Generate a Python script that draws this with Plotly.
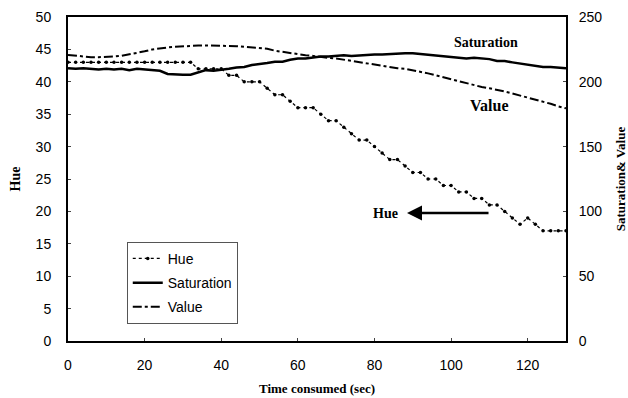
import plotly.graph_objects as go

time_s = list(range(0, 131, 2))

hue = [43, 43, 43, 43, 43, 43, 43, 43, 43, 43, 43, 43, 43, 43, 43, 43, 43,
       42, 42, 42, 42,
       41, 41,
       40, 40, 40,
       39, 38, 38, 37, 36, 36, 36, 35, 34, 34, 33, 32, 31, 31, 30, 29, 28, 28,
       27, 26, 26, 25, 25, 24, 24, 23, 23, 22, 22, 21, 21, 20, 19, 18, 19, 18,
       17, 17, 17, 17]

saturation = [210.5, 210, 210.5, 210, 209.5, 210, 209.5, 210, 209, 210, 209.5, 209, 208.5,
              206, 205.5, 205.5, 205.5, 207, 209, 208.5, 209, 210, 211, 211.5, 213, 213.5,
              214.5, 215.5, 215.5, 217, 218, 218, 219, 219.5, 219.5, 220, 220.5, 220,
              220.5, 221, 221, 221, 221.5, 221.5, 222, 222, 221.5, 221, 220, 220, 219.5,
              219, 218, 218.5, 218, 217.5, 216, 216, 215, 214, 213, 212.5, 211.5, 211.5,
              211, 210.5]

value = [220.7, 220, 219.5, 219, 219, 219, 219.5, 220, 221, 222, 223.5, 225, 226,
         226.5, 227, 227.5, 228, 228, 228, 228, 228, 228, 227.5, 227, 226.5, 226,
         225.5, 224, 223, 222, 221, 220.5, 220, 219, 218.5, 218, 217, 216.5, 215.5,
         214.5, 213.5, 212.5, 211.5, 210.5, 210, 209, 208, 206.5, 205, 203.5, 202,
         200, 198.5, 197, 196, 195, 194, 192.5, 191, 189.5, 188, 186, 184.5, 183,
         181, 179.5]

x_ticks = [0, 20, 40, 60, 80, 100, 120]

fig = go.Figure()
fig.add_trace(go.Scatter(
    x=time_s, y=hue, name="Hue", mode="lines+markers",
    line=dict(color="black", width=1.2, dash="dot"),
    marker=dict(color="black", size=3.5),
    legendgroup="h", yaxis="y"))
fig.add_trace(go.Scatter(
    x=time_s, y=saturation, name="Saturation", mode="lines",
    line=dict(color="black", width=2.5),
    legendgroup="s", yaxis="y2"))
fig.add_trace(go.Scatter(
    x=time_s, y=value, name="Value", mode="lines",
    line=dict(color="black", width=2, dash="dashdot"),
    legendgroup="v", yaxis="y2"))

sans = "Liberation Sans, Arial, sans-serif"
serif = "Liberation Serif, Times New Roman, serif"

fig.update_layout(
    width=628, height=398,
    margin=dict(l=68, r=62, t=17, b=57),
    paper_bgcolor="white", plot_bgcolor="white",
    font=dict(family=sans, size=14, color="black"),
    showlegend=True,
    legend=dict(x=0.118, y=0.306, xanchor="left", yanchor="top",
                bgcolor="white", bordercolor="#555", borderwidth=1,
                font=dict(family=sans, size=14, color="black"),
                tracegroupgap=3, traceorder="grouped"),
    xaxis=dict(range=[0, 130], tickvals=x_ticks, showline=True, linecolor="black",
               linewidth=2, mirror=True, ticks="inside", ticklen=3, showgrid=False,
               zeroline=False, tickfont=dict(size=14), ticklabelstandoff=10,
               automargin=False,
               title=dict(text="<b>Time consumed (sec)</b>",
                          font=dict(family=serif, size=13), standoff=12)),
    yaxis=dict(range=[0, 50], dtick=5, showline=True, linecolor="black", linewidth=2,
               ticks="inside", ticklen=3, showgrid=False, zeroline=False,
               tickfont=dict(size=14), ticklabelstandoff=12, automargin=False,
               title=dict(text="<b>Hue</b>", font=dict(family=serif, size=14), standoff=12)),
    yaxis2=dict(range=[0, 250], dtick=50, overlaying="y", side="right", showline=True,
                linecolor="black", linewidth=2, ticks="inside", ticklen=3,
                showgrid=False, zeroline=False, tickfont=dict(size=14),
                ticklabelstandoff=8, automargin=False,
                title=dict(text="<b>Saturation& Value</b>", font=dict(family=serif, size=13),
                           standoff=24)),
)

fig.add_annotation(x=109, y=46, xref="x", yref="y", text="<b>Saturation</b>",
                   showarrow=False, font=dict(family=serif, size=14, color="black"))
fig.add_annotation(x=110, y=36.4, xref="x", yref="y", text="<b>Value</b>",
                   showarrow=False, font=dict(family=serif, size=16, color="black"))
fig.add_annotation(x=82.8, y=19.75, xref="x", yref="y", text="<b>Hue</b>",
                   showarrow=False, font=dict(family=serif, size=14, color="black"))
fig.add_annotation(x=88.5, y=19.75, xref="x", yref="y", ax=83, ay=0, text="",
                   showarrow=True, arrowhead=2, arrowsize=1.2, arrowwidth=2.5,
                   arrowcolor="black")

fig.write_html("out.html")
